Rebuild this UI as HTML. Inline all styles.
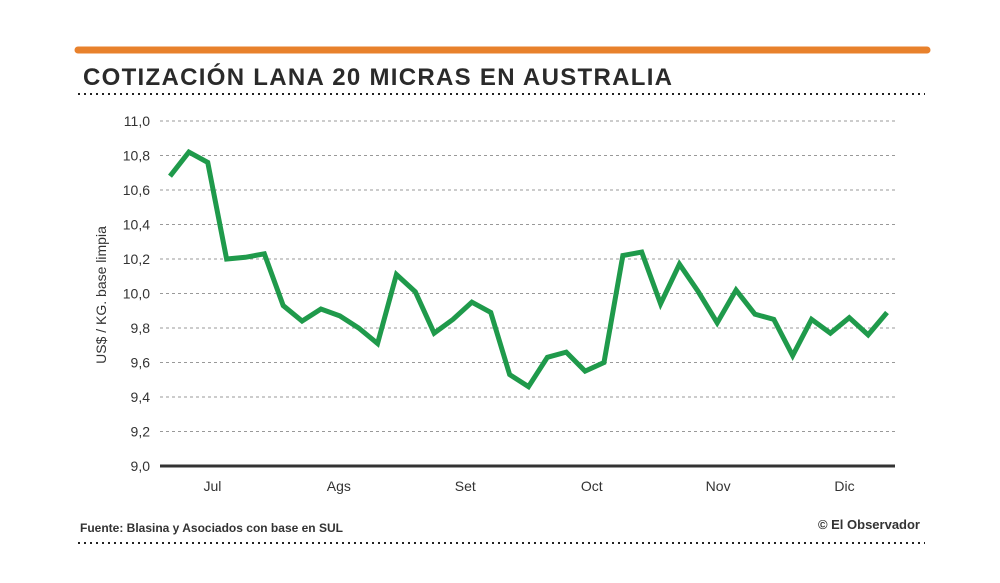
<!DOCTYPE html>
<html><head><meta charset="utf-8"><style>
body{margin:0;background:#fff;font-family:"Liberation Sans",sans-serif;}
svg{display:block}
</style></head><body>
<svg width="1000" height="583" viewBox="0 0 1000 583">
<rect x="0" y="0" width="1000" height="583" fill="#fff"/>
<line x1="78" y1="50" x2="927" y2="50" stroke="#e8812c" stroke-width="7" stroke-linecap="round"/>
<text x="83" y="85" font-size="24" font-weight="bold" fill="#2a2a2a" letter-spacing="1.3">COTIZACIÓN LANA 20 MICRAS EN AUSTRALIA</text>
<line x1="78" y1="94" x2="925" y2="94" stroke="#222" stroke-width="2" stroke-dasharray="2,4"/>
<g id="grid"></g>
<g id="yl"></g>
<g id="xl"></g>
<text transform="translate(106,295) rotate(-90)" text-anchor="middle" font-size="14" fill="#333">US$ / KG. base limpia</text>
<polyline id="line" fill="none" stroke="#1f9a4b" stroke-width="5" stroke-linejoin="miter"/>
<text x="80" y="532" font-size="12" font-weight="bold" fill="#333">Fuente: Blasina y Asociados con base en SUL</text>
<text x="920" y="529" font-size="13" font-weight="bold" text-anchor="end" fill="#333">© El Observador</text>
<line x1="78" y1="543" x2="925" y2="543" stroke="#222" stroke-width="2" stroke-dasharray="2,4"/>
</svg>
<script>
const yTicks=[9.0,9.2,9.4,9.6,9.8,10.0,10.2,10.4,10.6,10.8,11.0];
const yTickLabels=["9,0","9,2","9,4","9,6","9,8","10,0","10,2","10,4","10,6","10,8","11,0"];
const months=["Jul","Ags","Set","Oct","Nov","Dic"];
const monthPos=[2.25,8.95,15.65,22.35,29.05,35.75];
const values=[10.68,10.82,10.76,10.20,10.21,10.23,9.93,9.84,9.91,9.87,9.80,9.71,10.11,10.01,9.77,9.85,9.95,9.89,9.53,9.46,9.63,9.66,9.55,9.60,10.22,10.24,9.94,10.17,10.01,9.83,10.02,9.88,9.85,9.64,9.85,9.77,9.86,9.76,9.89];
const NS="http://www.w3.org/2000/svg";
const y=v=>466-(v-9)*172.5;
const x=i=>170+i*(887-170)/(values.length-1);
const grid=document.getElementById('grid'),yl=document.getElementById('yl'),xl=document.getElementById('xl');
yTicks.forEach((t,k)=>{
 const l=document.createElementNS(NS,'line');
 l.setAttribute('x1',160);l.setAttribute('x2',895);l.setAttribute('y1',y(t));l.setAttribute('y2',y(t));
 if(k===0){l.setAttribute('stroke','#333');l.setAttribute('stroke-width','3');}
 else{l.setAttribute('stroke','#999');l.setAttribute('stroke-width','1');l.setAttribute('stroke-dasharray','3,3');}
 
 
 grid.appendChild(l);
 const tx=document.createElementNS(NS,'text');
 tx.setAttribute('x',150);tx.setAttribute('y',y(t)+5);tx.setAttribute('text-anchor','end');tx.setAttribute('font-size','14');tx.setAttribute('fill','#333');
 tx.textContent=yTickLabels[k];
 
 
 yl.appendChild(tx);
});
months.forEach((m,k)=>{
 const tx=document.createElementNS(NS,'text');
 tx.setAttribute('x',x(monthPos[k]));tx.setAttribute('y',491);tx.setAttribute('text-anchor','middle');tx.setAttribute('font-size','14');tx.setAttribute('fill','#333');
 tx.textContent=m;
 
 
 xl.appendChild(tx);
});
document.getElementById('line').setAttribute('points',values.map((v,i)=>x(i)+','+y(v)).join(' '));
</script>
</body></html>
